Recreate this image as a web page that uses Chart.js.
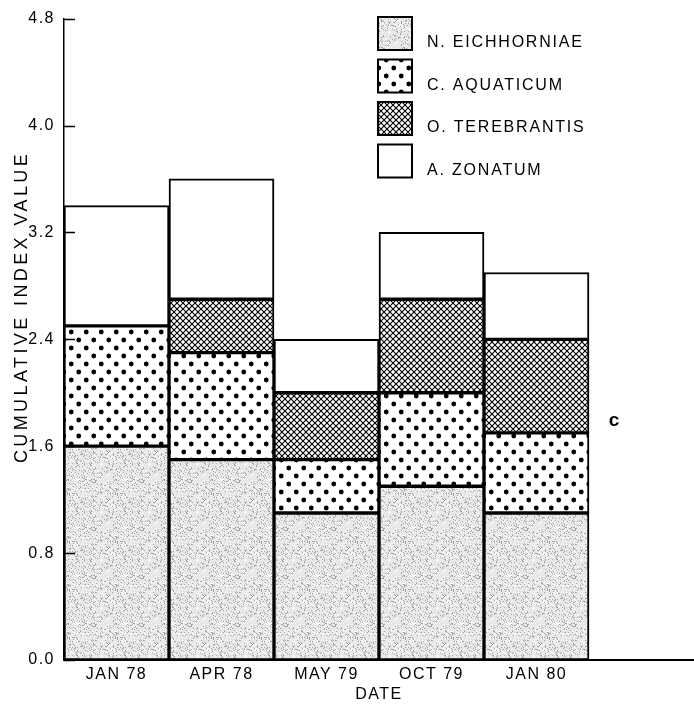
<!DOCTYPE html>
<html>
<head>
<meta charset="utf-8">
<title>Cumulative index value</title>
<script src="https://cdn.jsdelivr.net/npm/chart.js@4.4.0/dist/chart.umd.min.js"></script>
<style>
	html, body { margin: 0; padding: 0; background: #fff; }
	canvas { display: block; }
</style>
</head>
<body>
<canvas id="barChart" width="694" height="704"></canvas>
<script>
	// values (segment heights, stacked)
	const dates = ["JAN 78", "APR 78", "MAY 79", "OCT 79", "JAN 80"];
	const eichhorniae = [1.6, 1.5, 1.1, 1.3, 1.1];
	const aquaticum = [0.9, 0.8, 0.4, 0.7, 0.6];
	const terebrantis = [0, 0.4, 0.5, 0.7, 0.7];
	const zonatum = [0.9, 0.9, 0.4, 0.5, 0.5];
	const yMax = 4.8;
	const yStep = 0.8;

	const INK = "#000";
	const FONT = "'Liberation Sans', Arial, Helvetica, sans-serif";

	// --- fill patterns (stipple, dots, crosshatch) ---
	function makePattern(w, h, paint) {
		const tile = document.createElement("canvas");
		tile.width = w;
		tile.height = h;
		paint(tile.getContext("2d"), w, h);
		return document.createElement("canvas").getContext("2d").createPattern(tile, "repeat");
	}

	function hash(x, y) {
		let h = Math.imul(x, 374761393) + Math.imul(y, 668265263);
		h = Math.imul(h ^ (h >>> 13), 1274126177);
		return (h ^ (h >>> 16)) >>> 0;
	}

	const stipple = makePattern(48, 48, (c, w, h) => {
		c.fillStyle = "#e6e6e6";
		c.fillRect(0, 0, w, h);
		for (let y = 0; y < h; y++) {
			for (let x = 0; x < w; x++) {
				const v = hash(x, y) % 100;
				if (v < 14) c.fillStyle = "#a4a4a4";
				else if (v < 34) c.fillStyle = "#f8f8f8";
				else continue;
				c.fillRect(x, y, 1, 1);
			}
		}
	});

	const dots = makePattern(15, 16, (c, w, h) => {
		c.fillStyle = "#fff";
		c.fillRect(0, 0, w, h);
		c.fillStyle = INK;
		[[3.75, 4], [11.25, 12]].forEach(([x, y]) => {
			c.beginPath();
			c.arc(x, y, 2.4, 0, Math.PI * 2);
			c.fill();
		});
	});

	const hatch = makePattern(6, 6, (c, w, h) => {
		c.fillStyle = "#fff";
		c.fillRect(0, 0, w, h);
		c.strokeStyle = INK;
		c.lineWidth = 1.1;
		c.beginPath();
		c.moveTo(-1, -1); c.lineTo(w + 1, h + 1);
		c.moveTo(-1, h + 1); c.lineTo(w + 1, -1);
		c.stroke();
	});

	// --- little helpers drawn on top of the chart ---
	const spacing = {
		id: "spacing",
		beforeUpdate(chart) { chart.ctx.letterSpacing = "1.5px"; },
		beforeDraw(chart) { chart.ctx.letterSpacing = "1.5px"; }
	};

	const extras = {
		id: "extras",
		afterDraw(chart) {
			const ctx = chart.ctx;
			const y = chart.scales.y;
			const area = chart.chartArea;
			ctx.save();

			// inward tick marks on the value axis
			ctx.strokeStyle = INK;
			ctx.lineWidth = 1.5;
			y.ticks.forEach((t, i) => {
				const py = Math.round(y.getPixelForTick(i)) + 0.5;
				ctx.beginPath();
				ctx.moveTo(area.left, py);
				ctx.lineTo(area.left + 11, py);
				ctx.stroke();
			});

			// y axis title (sits a bit above the axis centre in the original)
			ctx.letterSpacing = "3.4px";
			ctx.fillStyle = INK;
			ctx.font = "18px " + FONT;
			ctx.textAlign = "center";
			ctx.textBaseline = "middle";
			ctx.translate(22, 307);
			ctx.rotate(-Math.PI / 2);
			ctx.fillText("CUMULATIVE INDEX VALUE", 0, 0);
			ctx.setTransform(1, 0, 0, 1, 0, 0);

			// legend, top right inside the plot
			ctx.letterSpacing = "1.8px";
			ctx.font = "16px " + FONT;
			ctx.textAlign = "left";
			chart.data.datasets.forEach((ds, i) => {
				const top = 17 + i * 42.5;
				ctx.fillStyle = ds.backgroundColor;
				ctx.fillRect(378, top, 34, 33);
				ctx.lineWidth = 2;
				ctx.strokeStyle = INK;
				ctx.strokeRect(378, top, 34, 33);
				ctx.fillStyle = INK;
				ctx.fillText(ds.label, 427, top + 26);
			});

			// stray mark at the right edge of the scan
			ctx.letterSpacing = "0px";
			ctx.font = "bold 19px " + FONT;
			ctx.textAlign = "center";
			ctx.fillText("c", 614, 421);
			ctx.restore();
		}
	};

	Chart.defaults.font.family = FONT;
	Chart.defaults.font.size = 16;
	Chart.defaults.color = INK;

	const barStyle = { borderColor: INK, borderWidth: 2, borderSkipped: false };

	new Chart(document.getElementById("barChart").getContext("2d"), {
		type: "bar",
		data: {
			labels: [...dates, ""],
			datasets: [
				{ label: "N. EICHHORNIAE", data: eichhorniae, backgroundColor: stipple, ...barStyle },
				{ label: "C. AQUATICUM", data: aquaticum, backgroundColor: dots, ...barStyle },
				{ label: "O. TEREBRANTIS", data: terebrantis, backgroundColor: hatch, ...barStyle },
				{ label: "A. ZONATUM", data: zonatum, backgroundColor: "#fff", ...barStyle },
			],
		},
		options: {
			responsive: false,
			animation: false,
			devicePixelRatio: 1,
			layout: { padding: { top: 15, right: 0, bottom: 0, left: 0 } },
			datasets: { bar: { barPercentage: 1, categoryPercentage: 1 } },
			plugins: {
				legend: { display: false },
				tooltip: { enabled: false },
			},
			scales: {
				x: {
					stacked: true,
					grid: { display: false, drawTicks: false },
					border: { display: true, color: INK, width: 2 },
					ticks: { padding: 5, maxRotation: 0 },
					title: {
						display: true,
						text: "DATE",
						font: { lineHeight: 1 },
						padding: { top: 0, bottom: 1 },
					},
					afterFit(scale) { scale.height = 44; },
				},
				y: {
					stacked: true,
					min: 0,
					max: yMax,
					grid: { display: false, drawTicks: false },
					border: { display: true, color: INK, width: 1.5 },
					ticks: {
						stepSize: yStep,
						padding: 9,
						callback: (v) => v.toFixed(1),
					},
					afterFit(scale) { scale.width = 64; },
				},
			},
		},
		plugins: [spacing, extras],
	});
</script>
</body>
</html>
